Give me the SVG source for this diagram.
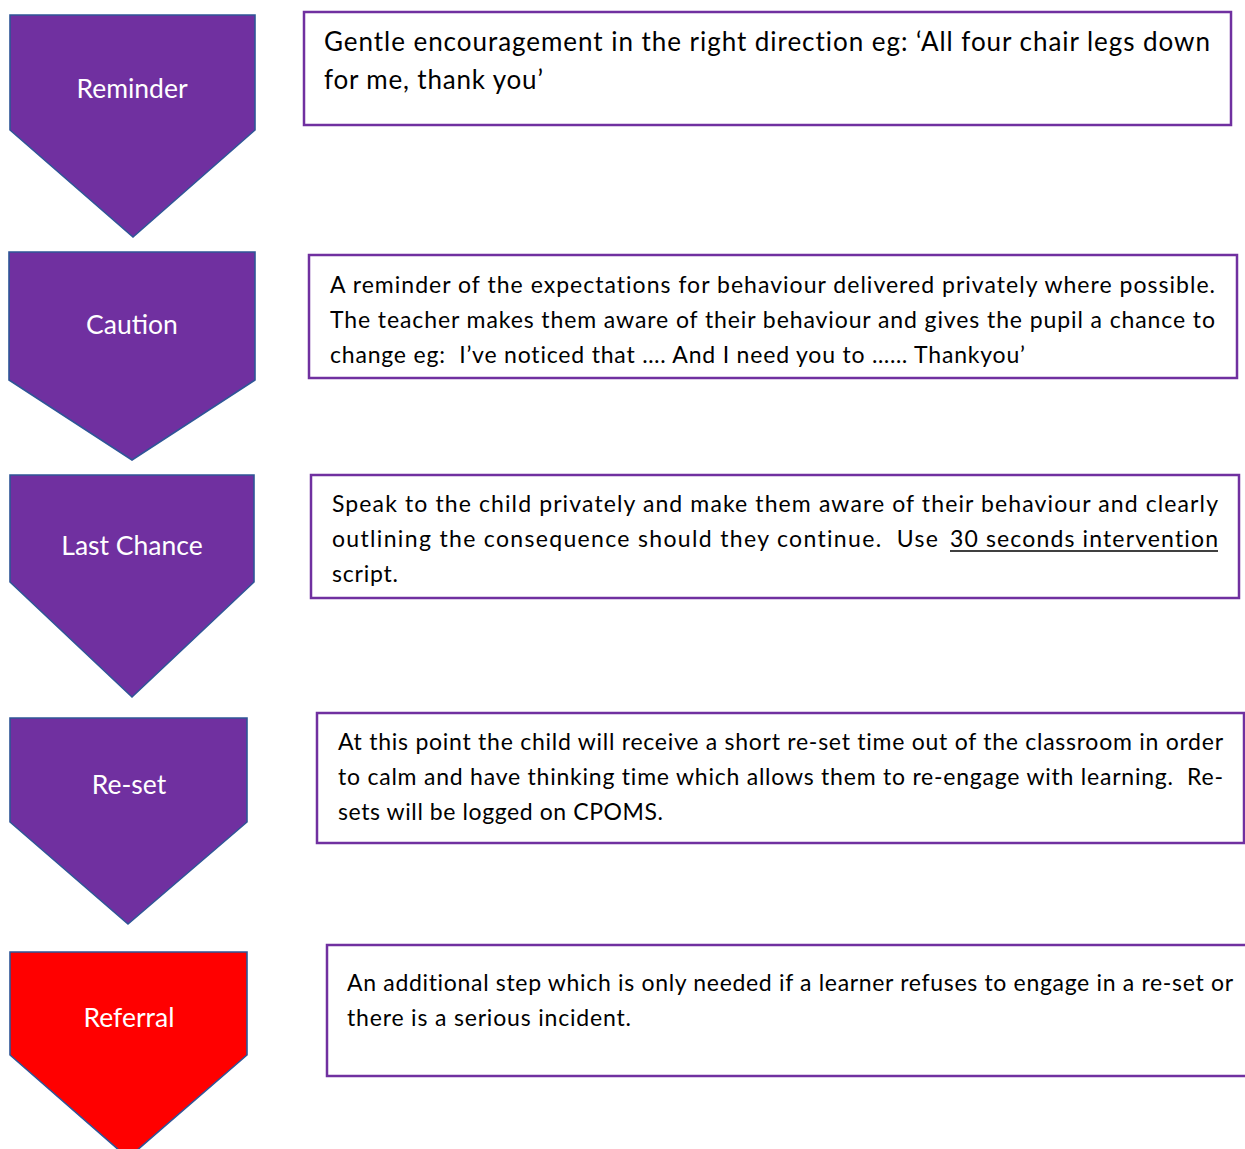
<svg xmlns="http://www.w3.org/2000/svg" width="1245" height="1149" viewBox="0 0 1245 1149">
<style>
.chev{fill:#7030A0;stroke:#2F5597;stroke-width:1.6}
.red{fill:#FF0000}
.box{fill:#fff;stroke:#7030A0;stroke-width:2.5}
.lbl{font-family:Lato,"Liberation Sans",sans-serif;font-size:26.5px;fill:#fff;text-anchor:middle}
.t{font-family:Lato,"Liberation Sans",sans-serif;font-size:23px;fill:#000;font-variant-ligatures:none;white-space:pre}
.t1{font-family:Lato,"Liberation Sans",sans-serif;font-size:26px;fill:#000;font-variant-ligatures:none}
</style>
<rect width="1245" height="1149" fill="#fff"/>
<g id="connectors"></g>
<g id="reminder">
<polygon class="chev" points="10,15 255,15 255,130 133,237 10,130"/>
<text class="lbl" x="132" y="98">Reminder</text>
</g>
<g id="reminder-desc">
<rect class="box" x="304" y="12" width="927" height="113"/>
<text class="t1" x="324" y="51" textLength="886" lengthAdjust="spacing">Gentle encouragement in the right direction eg: ‘All four chair legs down</text>
<text class="t1" x="324" y="89" textLength="219" lengthAdjust="spacing">for me, thank you’</text>
</g>
<g id="caution">
<polygon class="chev" points="9,252 255,252 255,380 132,460 9,380"/>
<text class="lbl" x="132" y="334">Caution</text>
</g>
<g id="caution-desc">
<rect class="box" x="309" y="255" width="928" height="123"/>
<text class="t" x="330" y="293" textLength="885" lengthAdjust="spacing">A reminder of the expectations for behaviour delivered privately where possible.</text>
<text class="t" x="330" y="328" textLength="885" lengthAdjust="spacing">The teacher makes them aware of their behaviour and gives the pupil a chance to</text>
<text class="t" x="330" y="363" textLength="695" lengthAdjust="spacing" xml:space="preserve">change eg:  I’ve noticed that …. And I need you to …… Thankyou’</text>
</g>
<g id="last-chance">
<polygon class="chev" points="10,475 254,475 254,582 132,697 10,582"/>
<text class="lbl" x="132" y="555">Last Chance</text>
</g>
<g id="last-chance-desc">
<rect class="box" x="311" y="475" width="928" height="123"/>
<text class="t" x="332" y="512" textLength="886" lengthAdjust="spacing">Speak to the child privately and make them aware of their behaviour and clearly</text>
<text class="t" x="332" y="547" textLength="606" lengthAdjust="spacing" xml:space="preserve">outlining the consequence should they continue.  Use</text>
<text class="t" x="950" y="547" textLength="268" lengthAdjust="spacing">30 seconds intervention</text>
<line x1="950" y1="551" x2="1218" y2="551" stroke="#000" stroke-width="1.5"/>
<text class="t" x="332" y="582" textLength="66" lengthAdjust="spacing">script.</text>
</g>
<g id="re-set">
<polygon class="chev" points="10,718 247,718 247,822 128,924 10,822"/>
<text class="lbl" x="129" y="794">Re-set</text>
</g>
<g id="re-set-desc">
<rect class="box" x="317" y="713" width="927" height="130"/>
<text class="t" x="338" y="750" textLength="885" lengthAdjust="spacing">At this point the child will receive a short re-set time out of the classroom in order</text>
<text class="t" x="338" y="785" textLength="885" lengthAdjust="spacing" xml:space="preserve">to calm and have thinking time which allows them to re-engage with learning.  Re-</text>
<text class="t" x="338" y="820" textLength="325" lengthAdjust="spacing">sets will be logged on CPOMS.</text>
</g>
<g id="referral">
<polygon class="chev red" points="10,952 247,952 247,1055 128,1158 10,1055"/>
<text class="lbl" x="129" y="1027">Referral</text>
</g>
<g id="referral-desc">
<rect class="box" x="327" y="945" width="930" height="131"/>
<text class="t" x="347" y="991" textLength="886" lengthAdjust="spacing">An additional step which is only needed if a learner refuses to engage in a re-set or</text>
<text class="t" x="347" y="1026" textLength="284" lengthAdjust="spacing">there is a serious incident.</text>
</g>
</svg>
